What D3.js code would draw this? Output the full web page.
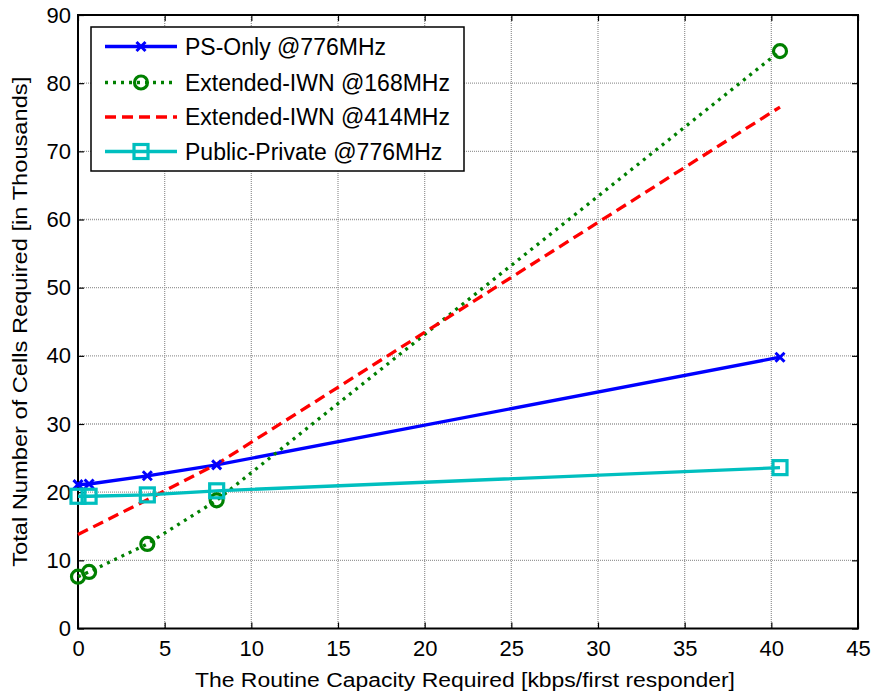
<!DOCTYPE html>
<html>
<head>
<meta charset="utf-8">
<script src="https://cdn.jsdelivr.net/npm/d3@7"></script>
<style>
  html, body { margin: 0; padding: 0; background: #fff; }
  svg { display: block; font-family: "Liberation Sans", Arial, sans-serif; }
</style>
</head>
<body>
<svg id="chart" width="873" height="696"></svg>
<script>
// ---- data ----
const xValues = [0, 0.64, 4, 8, 40.5];
const psOnly776 = [21.1, 21.2, 22.4, 24.0, 39.8];
const extIwn168 = [7.6, 8.3, 12.4, 18.8, 84.7];
const extIwn414 = [13.8, 14.6, 18.9, 24.1, 76.5];
const publicPrivate776 = [19.4, 19.4, 19.6, 20.2, 23.6];
const seriesNames = ["PS-Only @776MHz", "Extended-IWN @168MHz", "Extended-IWN @414MHz", "Public-Private @776MHz"];
const xTicks = [0, 5, 10, 15, 20, 25, 30, 35, 40, 45];
const yTicks = [0, 10, 20, 30, 40, 50, 60, 70, 80, 90];
const xLabel = "The Routine Capacity Required [kbps/first responder]";
const yLabel = "Total Number of Cells Required [in Thousands]";

const series = [
  { name: seriesNames[0], values: psOnly776, color: "#0000ff", dash: null, marker: "x" },
  { name: seriesNames[1], values: extIwn168, color: "#008000", dash: "3,5", marker: "circle" },
  { name: seriesNames[2], values: extIwn414, color: "#ff0000", dash: "11,6", marker: "none" },
  { name: seriesNames[3], values: publicPrivate776, color: "#00bfbf", dash: null, marker: "square" }
];

const L = 78, R = 858, T = 15, B = 628.5;
const svg = d3.select("#chart");
const x = d3.scaleLinear().domain([0, 45]).range([L, R]);
const y = d3.scaleLinear().domain([0, 90]).range([B, T]);

// grid
const grid = svg.append("g");
grid.selectAll("line.gx").data(xTicks.slice(1, -1)).enter().append("line")
  .attr("x1", d => x(d)).attr("x2", d => x(d)).attr("y1", T).attr("y2", B)
  .attr("stroke", "#999").attr("stroke-width", 1.3).attr("stroke-dasharray", "1,1");
grid.selectAll("line.gy").data(yTicks.slice(1, -1)).enter().append("line")
  .attr("y1", d => y(d)).attr("y2", d => y(d)).attr("x1", L).attr("x2", R)
  .attr("stroke", "#999").attr("stroke-width", 1.3).attr("stroke-dasharray", "1,1");

// axes (MATLAB-style inward ticks)
const tickLen = 6;
const fontSize = 22;
const xAxisB = d3.axisBottom(x).tickValues(xTicks).tickSize(-tickLen).tickPadding(12).tickSizeOuter(0);
const xAxisT = d3.axisTop(x).tickValues(xTicks).tickSize(-tickLen).tickFormat("").tickSizeOuter(0);
const yAxisL = d3.axisLeft(y).tickValues(yTicks).tickSize(-tickLen).tickPadding(7).tickSizeOuter(0);
const yAxisR = d3.axisRight(y).tickValues(yTicks).tickSize(-tickLen).tickFormat("").tickSizeOuter(0);

function styleAxis(g) {
  g.select(".domain").remove();
  g.selectAll("line").attr("stroke", "#000").attr("stroke-width", 1.2);
  g.selectAll("text").attr("fill", "#000").attr("font-size", fontSize)
    .attr("font-family", "'Liberation Sans', Arial, sans-serif");
}
svg.append("g").attr("transform", `translate(0,${B})`).call(xAxisB).call(styleAxis)
  .selectAll("text").attr("dy", "0.71em");
svg.append("g").attr("transform", `translate(0,${T})`).call(xAxisT).call(styleAxis);
svg.append("g").attr("transform", `translate(${L},0)`).call(yAxisL).call(styleAxis);
svg.append("g").attr("transform", `translate(${R},0)`).call(yAxisR).call(styleAxis);

// frame
svg.append("rect").attr("x", L).attr("y", T).attr("width", R - L).attr("height", B - T)
  .attr("fill", "none").attr("stroke", "#000").attr("stroke-width", 2);

// axis labels
svg.append("text").attr("x", (L + R) / 2 - 3).attr("y", 687)
  .attr("text-anchor", "middle").attr("font-size", 20)
  .attr("textLength", 540).attr("lengthAdjust", "spacingAndGlyphs")
  .text(xLabel);
svg.append("text").attr("transform", `translate(27,${(T + B) / 2}) rotate(-90)`)
  .attr("text-anchor", "middle").attr("font-size", 20)
  .attr("textLength", 490).attr("lengthAdjust", "spacingAndGlyphs")
  .text(yLabel);

// markers
function drawMarker(g, type, color, cx, cy) {
  if (type === "x") {
    const s = 4.5;
    g.append("path").attr("d", `M${cx - s},${cy - s}L${cx + s},${cy + s}M${cx - s},${cy + s}L${cx + s},${cy - s}`)
      .attr("stroke", color).attr("stroke-width", 3).attr("fill", "none");
  } else if (type === "circle") {
    g.append("circle").attr("cx", cx).attr("cy", cy).attr("r", 6.5)
      .attr("stroke", color).attr("stroke-width", 3.2).attr("fill", "none");
  } else if (type === "square") {
    const s = 7;
    g.append("rect").attr("x", cx - s).attr("y", cy - s).attr("width", 2 * s).attr("height", 2 * s)
      .attr("stroke", color).attr("stroke-width", 3.2).attr("fill", "none");
  }
}

const line = d3.line().x(d => x(d[0])).y(d => y(d[1]));
const plot = svg.append("g");
series.forEach(s => {
  const pts = xValues.map((xv, i) => [xv, s.values[i]]);
  plot.append("path").datum(pts).attr("d", line)
    .attr("fill", "none").attr("stroke", s.color).attr("stroke-width", 3.3)
    .attr("stroke-dasharray", s.dash);
});
series.forEach(s => {
  const g = plot.append("g");
  xValues.forEach((xv, i) => drawMarker(g, s.marker, s.color, x(xv), y(s.values[i])));
});

// legend
const lg = svg.append("g");
lg.append("rect").attr("x", 91).attr("y", 27).attr("width", 373).attr("height", 144)
  .attr("fill", "#fff").attr("stroke", "#000").attr("stroke-width", 1.5);
const rowsY = [46.5, 82.5, 117, 151.5];
series.forEach((s, i) => {
  const ry = rowsY[i];
  lg.append("line").attr("x1", 105).attr("x2", 177).attr("y1", ry).attr("y2", ry)
    .attr("stroke", s.color).attr("stroke-width", 3.3).attr("stroke-dasharray", s.dash);
  drawMarker(lg, s.marker, s.color, 141, ry);
  lg.append("text").attr("x", 185).attr("y", ry).attr("dy", "0.36em")
    .attr("font-size", 23).attr("fill", "#000").text(s.name);
});
</script>
</body>
</html>
